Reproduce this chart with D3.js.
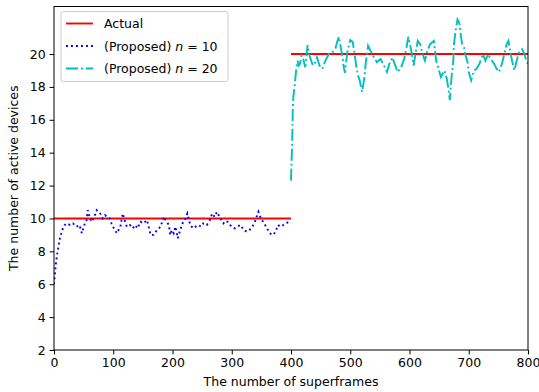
<!DOCTYPE html>
<html><head><meta charset="utf-8">
<script src="https://cdn.jsdelivr.net/npm/d3@7"></script>
<style>body{margin:0;background:#fff}svg{display:block;font-family:"DejaVu Sans",sans-serif}</style>
</head><body><svg id="c" width="539" height="392"></svg>
<script>
const xTicks=[0,100,200,300,400,500,600,700,800];
const yTicks=[2,4,6,8,10,12,14,16,18,20];
const actualX1=[0,400], actualY1=[10,10];
const actualX2=[400,800], actualY2=[20,20];
const n10X=[0,3,6,10,14,18,22,27,32,38,43,47,52,55,57,60,63,67,72,78,82,86,90,94,97,101,106,109,112,116,120,123,128,133,137,141,146,151,157,163,168,174,180,185,190,194,196,199,202,205,209,213,218,222,225,230,235,239,244,248,252,258,263,267,271,275,281,286,289,293,297,301,305,309,315,320,325,330,335,339,345,349,353,358,364,370,374,378,382,387,392,398];
const n10Y=[6.0,7.2,8.0,8.8,9.3,9.6,9.7,9.6,9.7,9.5,9.6,9.1,9.7,9.9,10.5,10.1,9.8,10.0,10.5,10.3,10.0,10.2,10.1,10.0,9.7,9.4,9.1,9.3,9.5,10.3,9.8,9.5,9.6,9.4,9.6,9.4,9.8,9.7,9.9,9.0,9.0,9.3,9.5,10.1,9.8,9.6,9.0,9.3,9.1,9.5,8.8,9.3,9.8,10.0,10.3,9.6,9.4,9.5,9.6,9.5,9.7,9.6,9.9,10.3,10.1,10.4,10.0,9.7,9.85,9.8,9.6,9.5,9.4,9.5,9.6,9.3,9.2,9.3,9.5,9.8,10.4,10.0,9.8,9.5,9.1,9.0,9.2,9.6,9.5,9.6,9.7,9.85];
const n20X=[400,401,402,403,404,406,407,409,411,413,415,418,420,424,428,432,437,441,444,448,453,458,464,470,475,478,481,484,487,489,491,495,500,504,507,510,513,516,518,520,524,526,530,534,540,545,551,557,562,566,571,575,580,586,591,595,598,603,607,610,614,618,622,626,630,635,641,645,649,653,659,663,666,668,671,674,675,678,681,684,687,689,692,694,698,700,704,709,713,718,724,728,733,737,743,747,751,756,760,764,767,770,773,777,781,785,790,794,797,800];
const n20Y=[12.3,13.5,14.6,16.6,17.4,18.0,18.4,19.15,19.6,19.3,19.4,19.9,19.8,19.2,20.55,19.8,19.3,19.5,19.8,19.3,19.1,19.6,20.0,20.1,20.35,20.75,21.05,20.4,19.8,19.2,18.85,20.1,20.85,20.75,20.1,19.3,18.7,18.4,18.0,17.7,18.6,19.4,20.5,20.2,19.8,19.5,19.7,19.3,18.9,19.4,19.8,19.4,18.9,19.2,19.7,20.4,21.05,20.2,19.3,20.0,20.8,20.6,20.0,19.6,20.2,20.6,20.8,19.6,19.1,18.6,19.0,18.5,17.8,17.2,18.6,19.6,20.6,21.45,22.1,21.9,21.05,20.55,20.4,20.0,19.5,18.9,18.4,19.0,19.1,19.4,20.0,19.6,20.0,19.7,19.4,19.1,18.9,19.4,20.0,20.6,20.8,20.2,19.6,19.0,19.6,20.1,20.3,20.0,19.6,19.4];
const legendLabels=["Actual","(Proposed) ","(Proposed) "];

const svg=d3.select("#c");
const L=54,R=528,T=6.5,B=350;
const x=d3.scaleLinear().domain([0,800]).range([L,R]);
const y=d3.scaleLinear().domain([2,22.89]).range([B,T]);
const fs=12.5;
svg.append("defs").append("clipPath").attr("id","clip").append("rect").attr("x",L).attr("y",T).attr("width",R-L).attr("height",B-T);
const g=svg.append("g").attr("clip-path","url(#clip)");
const line=d3.line().x(d=>x(d[0])).y(d=>y(d[1]));
const zip=(a,b)=>a.map((v,i)=>[v,b[i]]);
g.append("path").attr("d",line(zip(actualX1,actualY1))).attr("fill","none").attr("stroke","#ff0000").attr("stroke-width",1.9);
g.append("path").attr("d",line(zip(actualX2,actualY2))).attr("fill","none").attr("stroke","#ff0000").attr("stroke-width",1.9);
g.append("path").attr("d",line(zip(n10X,n10Y))).attr("fill","none").attr("stroke","#0000ff").attr("stroke-width",1.9).attr("stroke-dasharray","1.9,3.1");
g.append("path").attr("d",line(zip(n20X,n20Y))).attr("fill","none").attr("stroke","#00bfbf").attr("stroke-width",1.9).attr("stroke-dasharray","12,3,1.9,3");

const xa=svg.append("g").attr("transform",`translate(0,${B})`).call(d3.axisBottom(x).tickValues(xTicks).tickSize(4.4).tickPadding(4));
const ya=svg.append("g").attr("transform",`translate(${L},0)`).call(d3.axisLeft(y).tickValues(yTicks).tickSize(4.4).tickPadding(4));
[xa,ya].forEach(a=>{a.select(".domain").remove();a.selectAll("text").attr("font-size",fs).attr("font-family","DejaVu Sans").attr("fill","#000");a.selectAll("line").attr("stroke","#000").attr("stroke-width",1);});
svg.append("rect").attr("x",L).attr("y",T).attr("width",R-L).attr("height",B-T).attr("fill","none").attr("stroke","#000").attr("stroke-width",1);

svg.append("text").attr("x",(L+R)/2).attr("y",386).attr("text-anchor","middle").attr("font-size",fs).text("The number of superframes");
svg.append("text").attr("transform",`translate(18,${(T+B)/2}) rotate(-90)`).attr("text-anchor","middle").attr("font-size",fs).text("The number of active devices");

const lg=svg.append("g");
lg.append("rect").attr("x",61).attr("y",11.5).attr("width",167).attr("height",70).attr("rx",2.5).attr("fill","#fff").attr("fill-opacity",0.8).attr("stroke","#cccccc").attr("stroke-width",1);
const ly=[23.5,46,68.5];
const styles=[{c:"#ff0000",d:null},{c:"#0000ff",d:"1.9,3.1"},{c:"#00bfbf",d:"12,3,1.9,3"}];
ly.forEach((yy,i)=>{
  const p=lg.append("line").attr("x1",66).attr("x2",93).attr("y1",yy).attr("y2",yy).attr("stroke",styles[i].c).attr("stroke-width",1.9);
  if(styles[i].d)p.attr("stroke-dasharray",styles[i].d);
  const t=lg.append("text").attr("x",104).attr("y",yy+4.5).attr("font-size",fs).text(legendLabels[i]);
  if(i>0){
    t.append("tspan").attr("font-style","italic").text("n");
    t.append("tspan").text(" = "+(i===1?"10":"20"));
  }
});
</script></body></html>
